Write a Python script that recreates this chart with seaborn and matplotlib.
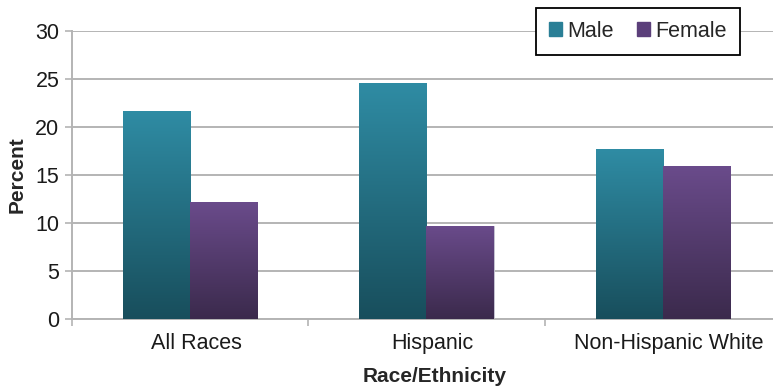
import numpy as np
import pandas as pd
import matplotlib
matplotlib.use("Agg")
import matplotlib.pyplot as plt
import seaborn as sns
from matplotlib.colors import LinearSegmentedColormap
from matplotlib.transforms import ScaledTranslation

# Data
groups = ["All Races", "Hispanic", "Non-Hispanic White"]
male = [21.7, 24.6, 17.7]
female = [12.15, 9.7, 15.9]

df = pd.DataFrame({
    "group": groups * 2,
    "sex": ["Male"] * 3 + ["Female"] * 3,
    "percent": male + female,
})

sns.set_style("white")
plt.rcParams["font.family"] = ["Liberation Sans", "DejaVu Sans"]

fig = plt.figure(figsize=(7.73, 3.87), dpi=100)
ax = fig.add_axes([72 / 773, 1 - 319 / 387, 709 / 773, 288 / 387])

legend_cols = {"Male": "#2a7f96", "Female": "#5b3f7a"}
sns.barplot(data=df, x="group", y="percent", hue="sex", order=groups,
            hue_order=["Male", "Female"], palette=legend_cols,
            width=0.567, gap=0, ax=ax, legend=False, zorder=2)

# vertical gradient on each bar
grads = {
    "Male": LinearSegmentedColormap.from_list("m", ["#184e5c", "#2f8ca4"]),
    "Female": LinearSegmentedColormap.from_list("f", ["#3b2a4c", "#6a4b8b"]),
}
grad = np.linspace(0, 1, 256).reshape(-1, 1)
for cont, sex in zip(ax.containers, ["Male", "Female"]):
    for p in cont.patches:
        x0, y0 = p.get_x(), p.get_y()
        w, h = p.get_width(), p.get_height()
        im = ax.imshow(grad, cmap=grads[sex], origin="lower", aspect="auto",
                       extent=[x0, x0 + w, y0, y0 + h], zorder=3)
        im.set_clip_path(p)
        p.set_edgecolor("#c9c9d6")
        p.set_linewidth(0.6)

ax.set_xlim(-0.5, 2.5)
ax.set_ylim(0, 30)
ax.set_yticks(range(0, 31, 5))
ax.yaxis.grid(True, color="#b4b4b4", linewidth=1.4, zorder=0)
ax.set_axisbelow(True)

for side in ["top", "right"]:
    ax.spines[side].set_visible(False)
for side in ["left", "bottom"]:
    ax.spines[side].set_color("#b4b4b4")
    ax.spines[side].set_linewidth(1.4)

ax.tick_params(axis="y", length=5, color="#b4b4b4", width=1.2, labelsize=15.5,
               pad=4, direction="out", left=True, labelcolor="#1a1a1a")
ax.tick_params(axis="x", which="major", length=0, labelsize=15.5, pad=10,
               labelcolor="#1a1a1a")
ax.set_xticks([-0.5, 0.5, 1.5], minor=True)
ax.tick_params(axis="x", which="minor", length=5, color="#b4b4b4", width=1.2,
               direction="out", bottom=True)
shift = ScaledTranslation(6 / 100, 0, fig.dpi_scale_trans)
for lab in ax.get_xticklabels():
    lab.set_transform(lab.get_transform() + shift)

ax.set_xlabel("Race/Ethnicity", fontsize=15, fontweight="bold")
ax.xaxis.set_label_coords(0.511, -0.165)
ax.set_ylabel("Percent", fontsize=15, fontweight="bold", labelpad=6)

handles = [plt.Rectangle((0, 0), 1, 1, color=legend_cols[s]) for s in ["Male", "Female"]]
leg = fig.legend(handles, ["Male", "Female"], loc="upper left",
                 bbox_to_anchor=(536 / 773, 1 - 8 / 387), ncol=2, fontsize=15.5,
                 frameon=True, fancybox=False, handlelength=0.6, handleheight=0.6,
                 handletextpad=0.25, columnspacing=1.1, borderpad=0.6,
                 borderaxespad=0)
leg.get_frame().set_edgecolor("black")
leg.get_frame().set_linewidth(1.3)
leg.get_frame().set_facecolor("white")
leg.get_frame().set_alpha(1)

fig.savefig("out.png", dpi=100)
